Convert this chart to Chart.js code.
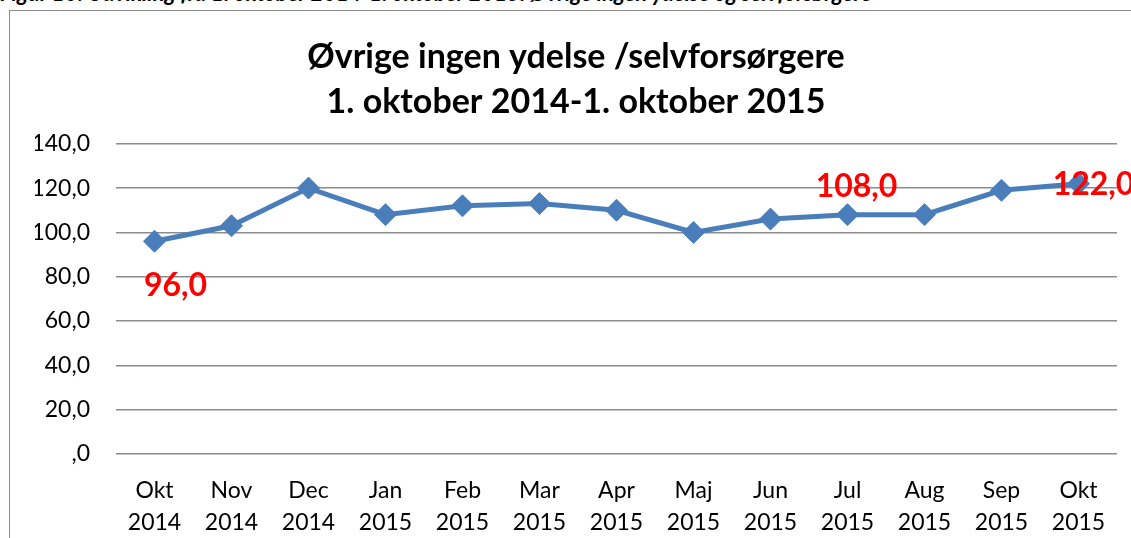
<!DOCTYPE html>
<html>
<head>
<meta charset="utf-8">
<script src="https://cdn.jsdelivr.net/npm/chart.js@4/dist/chart.umd.min.js"></script>
<style>
  html, body { margin: 0; padding: 0; background: #fff; overflow: hidden; }
  #wrap { position: relative; width: 1131px; height: 538px; overflow: hidden; }
  #caption {
    position: absolute; left: 0; top: -21px; white-space: nowrap;
    font: italic bold 22px Lato, sans-serif; color: #000;
  }
  #frame {
    position: absolute; left: 9px; top: 10px; width: 1140px; height: 560px;
    border: 1.5px solid #8c8c8c;
  }
  #chart { position: absolute; left: 0; top: 0; }
</style>
</head>
<body>
<div id="wrap">
  <div id="caption">Figur 10: Udvikling fra 1. oktober 2014-1. oktober 2015. Øvrige ingen ydelse og selvforsørgere</div>
  <div id="frame"></div>
  <canvas id="chart" width="1131" height="538"></canvas>
</div>
<script>
let months = ['Okt', 'Nov', 'Dec', 'Jan', 'Feb', 'Mar', 'Apr', 'Maj', 'Jun', 'Jul', 'Aug', 'Sep', 'Okt'];
let years = ['2014', '2014', '2014', '2015', '2015', '2015', '2015', '2015', '2015', '2015', '2015', '2015', '2015'];
let values = [96, 103, 120, 108, 112, 113, 110, 100, 106, 108, 108, 119, 122];
let labelledPoints = [0, 9, 12];
let titleLines = ['Øvrige ingen ydelse /selvforsørgere', '1. oktober 2014-1. oktober 2015'];

// where each red label sits relative to its point (px)
const labelOffsets = { 0: [21, 44], 9: [9, -28], 12: [15, 1] };

const fmt = (v) => v === 0 ? ',0' : v.toFixed(1).replace('.', ',');

const pointLabels = {
    id: 'pointLabels',
    afterDatasetsDraw(chart) {
        const ctx = chart.ctx;
        const meta = chart.getDatasetMeta(0);
        ctx.save();
        ctx.font = 'bold 32px Lato, sans-serif';
        ctx.fillStyle = '#ff0000';
        ctx.textAlign = 'center';
        ctx.textBaseline = 'middle';
        labelledPoints.forEach(i => {
            const pt = meta.data[i];
            const off = labelOffsets[i] || [0, -25];
            ctx.fillText(fmt(values[i]), pt.x + off[0], pt.y + off[1]);
        });
        ctx.restore();
    }
};

const ctx = document.getElementById('chart').getContext('2d');
new Chart(ctx, {
    type: 'line',
    data: {
        labels: months.map((m, i) => [m, years[i]]),
        datasets: [{
            data: values,
            borderColor: '#4a7ebb',
            backgroundColor: '#4a7ebb',
            borderWidth: 5,
            pointStyle: 'rectRot',
            pointRadius: 11,
            pointBorderWidth: 1,
            fill: false,
            tension: 0
        }]
    },
    options: {
        responsive: false,
        animation: false,
        layout: { padding: { left: 35, right: 14, top: 0, bottom: 0 } },
        plugins: {
            legend: { display: false },
            tooltip: { enabled: false },
            title: {
                display: true,
                text: titleLines,
                color: '#000',
                font: { family: 'Lato', size: 34, weight: 'bold', lineHeight: 1.32 },
                padding: { top: 35, bottom: 19 }
            }
        },
        scales: {
            x: {
                offset: true,
                grid: { display: false },
                border: { display: false },
                ticks: {
                    color: '#000',
                    padding: 12,
                    maxRotation: 0,
                    autoSkip: false,
                    font: { family: 'Lato', size: 23, lineHeight: 1.4 }
                },
                afterFit: (s) => { s.height = 84; }
            },
            y: {
                min: 0,
                max: 140,
                grid: { color: '#8c8c8c', lineWidth: 1.5, drawTicks: false },
                border: { display: false },
                ticks: {
                    stepSize: 20,
                    color: '#000',
                    padding: 26,
                    font: { family: 'Lato', size: 23 },
                    callback: (v) => fmt(v)
                },
                afterFit: (s) => { s.width = 81; }
            }
        }
    },
    plugins: [pointLabels]
});
</script>
</body>
</html>
